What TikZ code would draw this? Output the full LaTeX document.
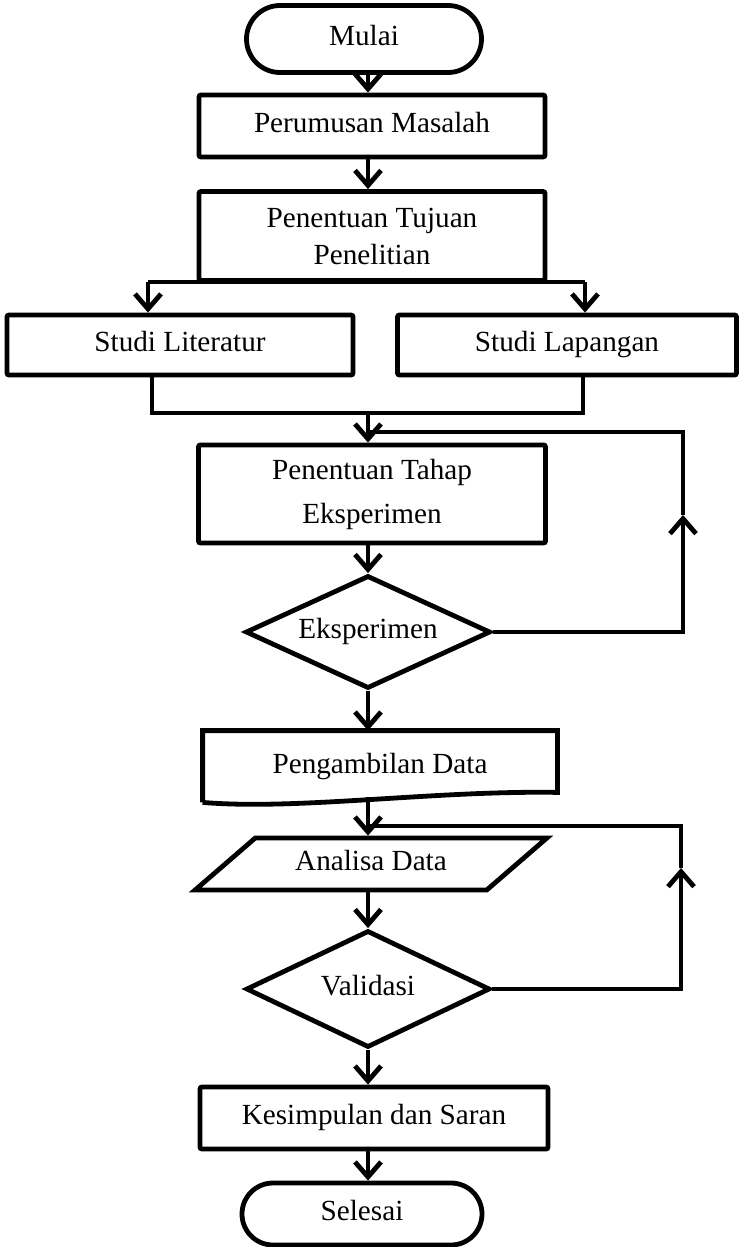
\documentclass[tikz,border=0pt]{standalone}
\usepackage{fontspec}
\setmainfont{Liberation Serif}
\usepackage{tikz}
\usetikzlibrary{arrows.meta,calc,shapes.geometric,shapes.misc}

\begin{document}
\begin{tikzpicture}[x=0.5pt, y=-0.5pt,
  base/.style={line width=2.4pt, align=center, inner sep=2pt,
               font=\fontsize{14.6pt}{18.5pt}\selectfont},
  one/.style ={text height=0.9em, text depth=0.24em},
  box/.style ={base, draw, rectangle, rounded corners=1pt},
  term/.style={base, one, draw, rounded rectangle},
  dec/.style ={base, one, draw, diamond, aspect=2.2, inner sep=0pt},
  io/.style  ={base, one, draw, trapezium, trapezium stretches=true,
               trapezium left angle=36.6, trapezium right angle=143.4},
  doc/.style ={base, one, rectangle},
  ln/.style  ={line width=2.4pt, line join=miter},
  arr/.style ={ln, -{Straight Barb[length=7.5pt, width=13pt]}}
]
  \useasboundingbox (0,0) rectangle (741,1247);

  %% ── main column ─────────────────────────────────────────────────────────
  \node[term] (mulai) at (364,  39) [minimum width=121.5pt, minimum height=33.5pt] {Mulai};
  \node[box, one] (rumus) at (372, 126) [minimum width=173pt, minimum height=31pt] {Perumusan Masalah};
  \node[box]  (tujuan) at (372, 236) [minimum width=173pt, minimum height=44.5pt] {Penentuan Tujuan\\Penelitian};

  %% ── two studies side by side ────────────────────────────────────────────
  \node[box, one] (lit) at (180, 345) [minimum width=173pt, minimum height=30pt] {Studi Literatur};
  \node[box, one] (lap) at (567, 345) [minimum width=169.5pt, minimum height=30pt] {Studi Lapangan};

  \node[box]  (tahap) at (372, 494) [minimum width=173.5pt, minimum height=49pt] {Penentuan Tahap\\[3.5pt]Eksperimen};
  \node[dec]  (eks)   at (368, 632) [minimum width=122.5pt, minimum height=56.5pt] {Eksperimen};
  \node[doc]  (ambil) at (380, 766.5) [minimum width=175pt, minimum height=33.5pt] {Pengambilan Data};
  \node[io]   (analisa) at (371, 864) [minimum width=176pt, minimum height=26pt] {Analisa Data};
  \node[dec]  (valid) at (368, 989) [minimum width=122pt, minimum height=58.5pt] {Validasi};
  \node[box, one] (simpul) at (374, 1118) [minimum width=174pt, minimum height=31pt] {Kesimpulan dan Saran};
  \node[term] (selesai) at (362, 1214) [minimum width=124pt, minimum height=31pt] {Selesai};

  %% ── document outline with wavy bottom ──────────────────────────────────
  \draw[ln] (ambil.south west) -- (ambil.north west) -- (ambil.north east)
    -- ($(ambil.south east)+(0,-10)$)
    .. controls ($(ambil.south east)+(-125,-12)$) and ($(ambil.south west)+(95,8)$)
    .. (ambil.south west);

  %% ── branch and merge points ─────────────────────────────────────────────
  \coordinate (axis)    at (368, 0);
  \coordinate (split-l) at (148, 282);
  \coordinate (split-r) at (585, 282);
  \coordinate (merge-l) at (152, 413);
  \coordinate (merge-r) at (583, 413);
  \coordinate (merge)   at (368, 413);
  \coordinate (out)     at (368, 797);
  \coordinate (fb-a)    at (683, 515);
  \coordinate (join-a)  at (368, 432);
  \coordinate (fb-b)    at (681, 868);
  \coordinate (join-b)  at (368, 826);

  %% ── connectors ─────────────────────────────────────────────────────────
  \draw[arr] (mulai.south -| axis) -- (rumus.north -| axis);
  \draw[arr] (rumus.south -| axis) -- (tujuan.north -| axis);

  \draw[ln]  (split-l) -- (split-r);
  \draw[arr] (split-l) -- (split-l |- lit.north);
  \draw[arr] (split-r) -- (split-r |- lap.north);

  \draw[ln]  (merge-l |- lit.south) -- (merge-l) -- (merge-r) -- (merge-r |- lap.south);
  \draw[arr] (merge) -- (merge |- tahap.north);

  \draw[arr] (tahap.south -| axis) -- (eks.north);
  \draw[arr] (eks.south) -- (eks.south |- ambil.north);
  \draw[arr] (out) -- (out |- analisa.north);
  \draw[arr] (analisa.south -| axis) -- (valid.north);
  \draw[arr] (valid.south) -- (simpul.north -| axis);
  \draw[arr] (simpul.south -| axis) -- (selesai.north -| axis);

  %% ── loops back ─────────────────────────────────────────────────────────
  \draw[arr] (eks.east) -| (fb-a);
  \draw[ln]  (fb-a) |- (join-a);
  \draw[arr] (valid.east) -| (fb-b);
  \draw[ln]  (fb-b) |- (join-b);

\end{tikzpicture}
\end{document}
